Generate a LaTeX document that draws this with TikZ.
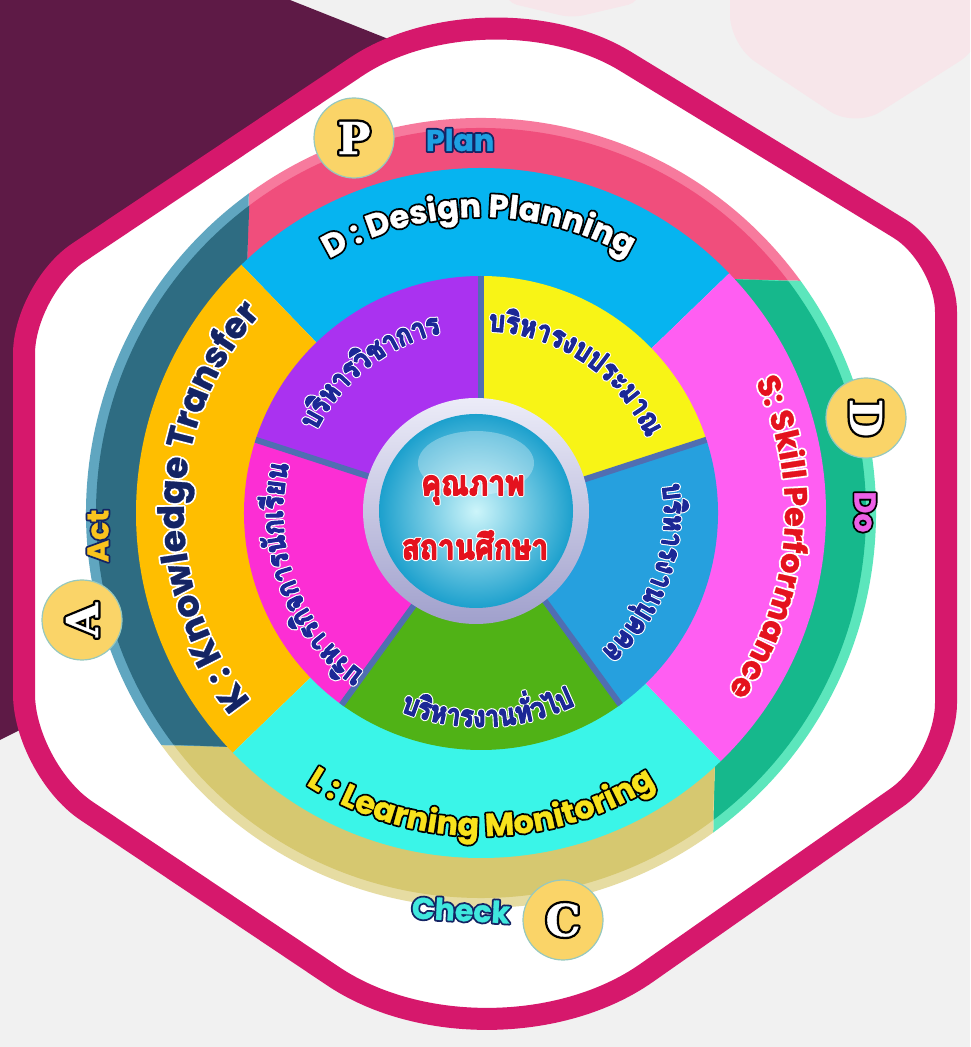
\documentclass[tikz,border=0pt]{standalone}
\usepackage{fontspec}
\usepackage{tikz}
\usetikzlibrary{decorations.text,calc}
\newfontfamily\latinfont{Poppins}
\newfontfamily\thaifont[Script=Thai,FakeStretch=0.85]{Loma}
\newfontfamily\badgefont{DejaVu Serif}
\definecolor{bgrey}{RGB}{241,241,241}
\definecolor{plum}{RGB}{94,26,70}
\definecolor{hexpink}{RGB}{214,24,108}
\definecolor{faintpink}{RGB}{247,230,234}
\definecolor{planmain}{RGB}{240,78,124}
\definecolor{planrim}{RGB}{247,122,157}
\definecolor{dogreen}{RGB}{22,184,140}
\definecolor{dorim}{RGB}{92,230,188}
\definecolor{checkmain}{RGB}{214,200,112}
\definecolor{checkrim}{RGB}{230,220,162}
\definecolor{actmain}{RGB}{46,108,130}
\definecolor{actrim}{RGB}{96,166,192}
\definecolor{oblue}{RGB}{6,180,240}
\definecolor{omagenta}{RGB}{255,94,242}
\definecolor{ocyan}{RGB}{58,245,232}
\definecolor{oorange}{RGB}{255,190,0}
\definecolor{ipurple}{RGB}{170,50,240}
\definecolor{iyellow}{RGB}{248,244,22}
\definecolor{iblue}{RGB}{38,160,222}
\definecolor{igreen}{RGB}{80,178,22}
\definecolor{ipink}{RGB}{252,46,212}
\definecolor{sepblue}{RGB}{80,110,178}
\definecolor{navy}{RGB}{28,40,150}
\definecolor{knavy}{RGB}{20,36,100}
\definecolor{qred}{RGB}{228,18,30}
\definecolor{lyellow}{RGB}{248,226,28}
\definecolor{badgeyellow}{RGB}{250,212,104}
\definecolor{badgeedge}{RGB}{150,200,190}
\definecolor{planblue}{RGB}{30,160,226}
\definecolor{dopink}{RGB}{236,96,230}
\definecolor{checkcyan}{RGB}{64,232,222}
\definecolor{actyellow}{RGB}{250,196,30}
\definecolor{bezellight}{RGB}{236,236,248}
\definecolor{bezeldark}{RGB}{160,160,204}
\definecolor{globelight}{RGB}{205,245,250}
\definecolor{globedark}{RGB}{28,160,205}
\tikzstyle{badge} = [circle, minimum size=80pt, inner sep=0pt, fill=badgeyellow, draw=badgeedge, line width=1.2pt]
\tikzstyle{sepline} = [line width=6pt, color=sepblue]
\tikzstyle{word} = [inner sep=0pt]
\newcommand\bigfont{\latinfont\bfseries\fontsize{32}{34}\selectfont}
\newcommand\kfont{\latinfont\bfseries\fontsize{36}{38}\selectfont}
\newcommand\innerfont{\thaifont\bfseries\fontsize{30}{32}\selectfont}
\newcommand\pdcafont{\latinfont\bfseries\fontsize{30}{32}\selectfont}
\newcommand\letterfont{\badgefont\bfseries\fontsize{44}{44}\selectfont}
% outlined letters: a wide stroke first, then the filled (slightly emboldened) letters
\newcommand\olstroke[1]{\special{pdf:literal direct #1 w 1 j 1 Tr}}
\newcommand\olfill[1]{\special{pdf:literal direct #1 w 1 j 2 Tr}}
\newcommand\oloff{\special{pdf:literal direct 0 Tr}}
\newbox\olbox
\newcommand\outltext[5]{% outline colour, fill colour, outline width, bold width, text
  \setbox\olbox=\hbox{#5}%
  \rlap{\color{#1}\olstroke{#3}\copy\olbox\oloff}{\color{#2}\olfill{#4}\box\olbox\oloff}}
% outlined text along an arc: radius, start, end, font, fill, outline, outline width, bold width, text
\newcommand\arctext[9]{%
  \path[decorate, decoration={text along path, text align=center, text={|#4\color{#6}\olstroke{#7}|#9}}]
    (#2:#1) arc[start angle=#2, end angle=#3, radius=#1];
  \path[decorate, decoration={text along path, text align=center, text={|#4\color{#5}\olfill{#8}|#9}}]
    (#2:#1) arc[start angle=#2, end angle=#3, radius=#1];
}
% one PDCA band, clockwise from #1 to #2
\newcommand\pdcaband[4]{%
  \fill[#3] (#1:343) arc[start angle=#1, end angle=#2, radius=343] -- ({#2-7}:395)
    arc[start angle={#2-7}, end angle={#1-7}, radius=395] -- cycle;
  \fill[#4] (#1:343) arc[start angle=#1, end angle=#2, radius=343] -- ({#2-6}:385)
    arc[start angle={#2-6}, end angle={#1-6}, radius=385] -- cycle;
}
% rounded corner at #1 between #2 and #3, cut #4
\newcommand\rc[4]{-- ($(#1)!#4!(#2)$) .. controls ($(#1)!{0.45*#4}!(#2)$) and ($(#1)!{0.45*#4}!(#3)$) .. ($(#1)!#4!(#3)$)}
\begin{document}
\begin{tikzpicture}[x=1pt, y=1pt]
\useasboundingbox (0,0) rectangle (970,1047);
\clip (0,0) rectangle (970,1047);
% background, in picture pixels with y downwards
\begin{scope}[shift={(0,1047)}, yscale=-1]
\fill[bgrey] (0,0) rectangle (970,1047);
\fill[faintpink, rounded corners=30] (730,-40) -- (730,45) -- (855,128) -- (985,45) -- (985,-40) -- cycle;
\fill[faintpink, rounded corners=12] (505,-20) -- (505,2) -- (572,18) -- (640,2) -- (640,-20) -- cycle;
\fill[plum] (0,0) -- (290,0) -- (600,123) -- (600,440) -- (0,740) -- cycle;
\coordinate (ul) at (24,289);
\coordinate (top) at (489,-22);
\coordinate (ur) at (946,257);
\coordinate (lr) at (946,763);
\coordinate (bot) at (491,1082);
\coordinate (ll) at (24,769);
\draw[hexpink, line width=22pt, fill=white] ($(ul)!65pt!(ll)$) \rc{ul}{ll}{top}{65pt} \rc{top}{ul}{ur}{160pt}
  \rc{ur}{top}{lr}{55pt} \rc{lr}{ur}{bot}{60pt} \rc{bot}{lr}{ll}{190pt} \rc{ll}{bot}{ul}{75pt} -- cycle;
\end{scope}

\begin{scope}[shift={(481,534)}]
% PDCA ring
\pdcaband{133}{43}{planrim}{planmain}
\pdcaband{43}{-47}{dorim}{dogreen}
\pdcaband{-47}{-137}{checkrim}{checkmain}
\pdcaband{223}{133}{actrim}{actmain}

% outer quarters
\foreach \a/\col in {44/oblue,134/oorange,224/ocyan,314/omagenta}
  \fill[\col] (0,0) -- (\a:345) arc[start angle=\a, end angle=\a+90, radius=345] -- cycle;

% five areas of administration
\foreach \a/\col in {90/ipurple,162/ipink,234/igreen,306/iblue,18/iyellow}
  \fill[\col] (0,0) -- (\a:237) arc[start angle=\a, end angle=\a+72, radius=237] -- cycle;
\foreach \a in {18,90,162,234,306}
  \draw[sepline] (\a:100) -- (\a:237);

% centre globe
\shade[top color=bezellight, bottom color=bezeldark] (-5,2) circle (113);
\shade[inner color=globelight, outer color=globedark] (-5,2) circle (97);
\fill[white, opacity=0.3] (-5,50) ellipse (58 and 32);
\node (quality) [word] at (-8,23) {\thaifont\bfseries\fontsize{35}{35}\selectfont\outltext{white}{qred}{3.6}{1.4}{คุณภาพ}};
\node (school) [word] at (-6,-32) {\thaifont\bfseries\fontsize{35}{35}\selectfont\outltext{white}{qred}{3.6}{1.4}{สถานศึกษา}};

% DSLK
\arctext{296}{150}{31}{\bigfont}{white}{black}{4}{0.3}{D : Design Planning}
\arctext{304}{55}{-65}{\bigfont}{qred}{white}{4}{0.3}{S: Skill Performance}
\arctext{323}{-150}{-30}{\bigfont}{lyellow}{black}{4}{0.3}{L : Learning Monitoring}
\arctext{297}{245}{112}{\kfont}{knavy}{white}{4}{0.3}{K : Knowledge Transfer}

% inner labels
\arctext{184}{172}{84}{\innerfont}{navy}{white}{3.4}{1.2}{บ{ริ}หาร{วิ}ชาการ}
\arctext{182}{100}{12}{\innerfont}{navy}{white}{3.4}{1.2}{บ{ริ}หารงบประมาณ}
\arctext{183}{24}{-64}{\innerfont}{navy}{white}{3.4}{1.2}{บ{ริ}หารงาน{บุ}คคล}
\arctext{214}{-132}{-44}{\innerfont}{navy}{white}{3.4}{1.2}{บ{ริ}หารงาน{ทั่}วไป}
\arctext{198}{250}{150}{\innerfont}{navy}{white}{3.4}{1.2}{บ{ริ}หาร{กิ}จการ{นั}กเ{รี}ยน}

% badges
\node (badgeP) [badge] at (-127,375) {\letterfont\outltext{black}{white}{5}{0.3}{P}};
\node (badgeD) [badge, rotate=-90] at (385,95) {\letterfont\outltext{black}{white}{5}{0.3}{D}};
\node (badgeC) [badge] at (82,-407) {\letterfont\outltext{black}{white}{5}{0.3}{C}};
\node (badgeA) [badge, rotate=90] at (-399,-107) {\letterfont\outltext{black}{white}{5}{0.3}{A}};
\node (plan) [word] at (-21,373) {\pdcafont\outltext{knavy}{planblue}{4}{0.3}{Plan}};
\node (do) [word, rotate=-90] at (384,1) {\pdcafont\outltext{black}{dopink}{4}{0.3}{Do}};
\node (check) [word, rotate=-3] at (-20,-397) {\pdcafont\outltext{knavy}{checkcyan}{4}{0.3}{Check}};
\node (act) [word, rotate=90] at (-383,-23) {\pdcafont\outltext{knavy}{actyellow}{4}{0.3}{Act}};
\end{scope}
\end{tikzpicture}
\end{document}
